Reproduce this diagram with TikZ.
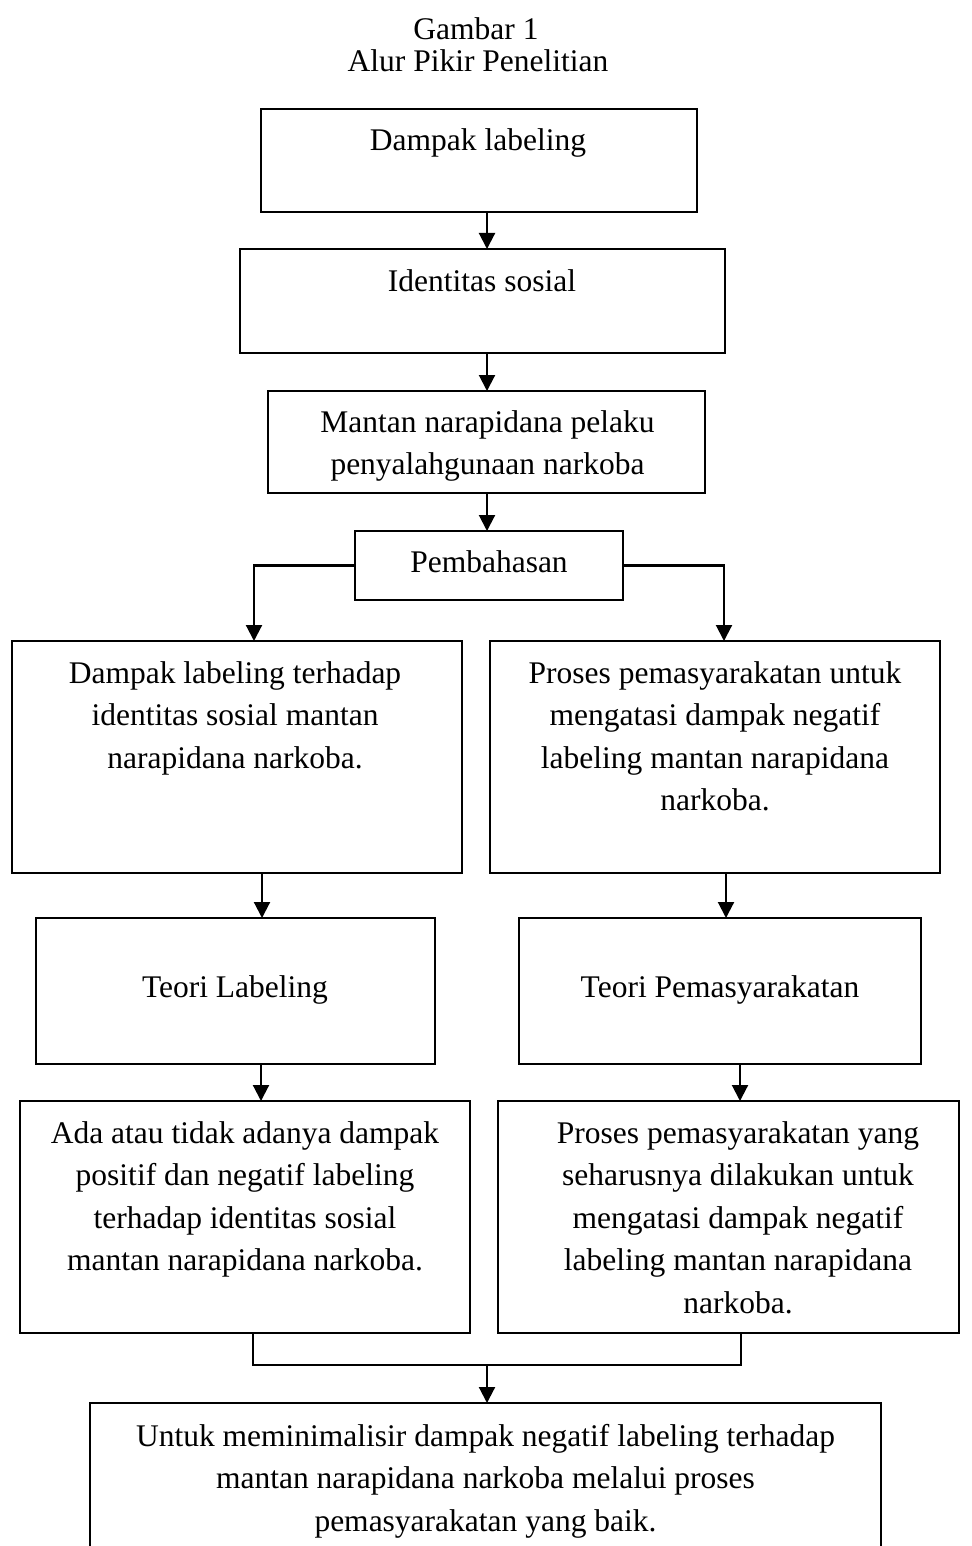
\documentclass[tikz,border=0pt]{standalone}
\usepackage{fontspec}
\setmainfont{Liberation Serif}
\usetikzlibrary{arrows.meta}
\begin{document}
\begin{tikzpicture}[x=1pt,y=-1pt,
  box/.style={draw, line width=2.1pt, inner sep=0pt, outer sep=0pt, rectangle},
  txt/.style={align=center, inner sep=0pt, font=\fontsize{31.5}{42.5}\selectfont, anchor=north},
  ltxt/.style={inner sep=0pt, font=\fontsize{31.5}{42.5}\selectfont, anchor=base},
  arr/.style={line width=2.1pt, -{Triangle[length=16pt,width=16pt]}},
  con/.style={line width=2.1pt}]
\useasboundingbox (0,0) rectangle (971,1546);
\clip (0,0) rectangle (971,1546);

% title
\node[ltxt] (title1) at (476,40) {Gambar 1};
\node[ltxt] (title2) at (478,72) {Alur Pikir Penelitian};

% boxes
\node[box, minimum width=436pt, minimum height=103pt] (b1) at (479,160.5) {};
\node[box, minimum width=485pt, minimum height=104pt] (b2) at (482.5,301) {};
\node[box, minimum width=437pt, minimum height=102pt] (b3) at (486.5,442) {};
\node[box, minimum width=268pt, minimum height=69pt] (b4) at (489,565.5) {};
\node[box, minimum width=450pt, minimum height=232pt] (b5l) at (237,757) {};
\node[box, minimum width=450pt, minimum height=232pt] (b5r) at (715,757) {};
\node[box, minimum width=399pt, minimum height=146pt] (b6l) at (235.5,991) {};
\node[box, minimum width=402pt, minimum height=146pt] (b6r) at (720,991) {};
\node[box, minimum width=450pt, minimum height=232pt] (b7l) at (245,1217) {};
\node[box, minimum width=461pt, minimum height=232pt] (b7r) at (728.5,1217) {};
\node[box, minimum width=791pt, minimum height=197pt] (b8) at (485.5,1501.5) {};

% texts
\node[ltxt] (t1) at (478,151) {Dampak labeling};
\node[ltxt] (t2) at (482,291) {Identitas sosial};
\node[txt] (t3) at (487.5,410) {Mantan narapidana pelaku\\penyalahgunaan narkoba};
\node[ltxt] (t4) at (489,572) {Pembahasan};
\node[txt] (t5l) at (235,661) {Dampak labeling terhadap\\identitas sosial mantan\\narapidana narkoba.};
\node[txt] (t5r) at (715,661) {Proses pemasyarakatan untuk\\mengatasi dampak negatif\\labeling mantan narapidana\\narkoba.};
\node[ltxt] (t6l) at (235,997) {Teori Labeling};
\node[ltxt] (t6r) at (720,997) {Teori Pemasyarakatan};
\node[txt] (t7l) at (245,1121) {Ada atau tidak adanya dampak\\positif dan negatif labeling\\terhadap identitas sosial\\mantan narapidana narkoba.};
\node[txt] (t7r) at (738,1121) {Proses pemasyarakatan yang\\seharusnya dilakukan untuk\\mengatasi dampak negatif\\labeling mantan narapidana\\narkoba.};
\node[txt] (t8) at (485.5,1424) {Untuk meminimalisir dampak negatif labeling terhadap\\mantan narapidana narkoba melalui proses\\pemasyarakatan yang baik.};

% connector positions
\coordinate (xa) at (487,0);
\coordinate (xl1) at (254,0);
\coordinate (xr1) at (724,0);
\coordinate (xl2) at (262,0);
\coordinate (xr2) at (726,0);
\coordinate (xl3) at (261,0);
\coordinate (xr3) at (740,0);
\coordinate (bl) at (253,1365);
\coordinate (br) at (741,1365);
\coordinate (bj) at (487,1365);

% connectors
\draw[arr] (b1.south -| xa) -- (b2.north -| xa);
\draw[arr] (b2.south -| xa) -- (b3.north -| xa);
\draw[arr] (b3.south -| xa) -- (b4.north -| xa);
\draw[arr] (b4.west) -| (xl1 |- b5l.north);
\draw[arr] (b4.east) -| (xr1 |- b5r.north);
\draw[arr] (b5l.south -| xl2) -- (b6l.north -| xl2);
\draw[arr] (b5r.south -| xr2) -- (b6r.north -| xr2);
\draw[arr] (b6l.south -| xl3) -- (b7l.north -| xl3);
\draw[arr] (b6r.south -| xr3) -- (b7r.north -| xr3);
\draw[con] (b7l.south -| bl) -- (bl) -- (br) -- (b7r.south -| br);
\draw[arr] (bj) -- (b8.north -| bj);
\end{tikzpicture}
\end{document}
